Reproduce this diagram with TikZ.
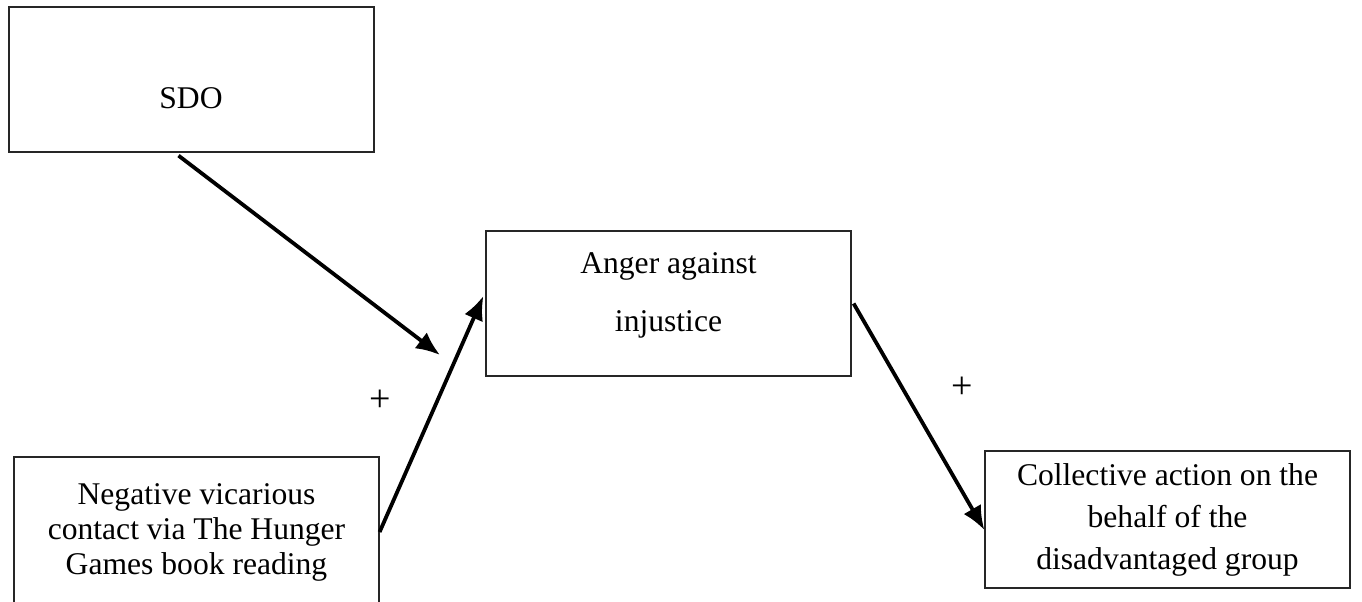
\documentclass[tikz,border=0pt]{standalone}
\usepackage{fontspec}
\setmainfont{Liberation Serif}
\usetikzlibrary{arrows.meta}
\tikzset{
  box/.style={draw=black!85, line width=0.6pt, minimum width=182.5pt, inner sep=0pt},
  txt/.style={align=center, font=\fontsize{15.8}{17.5}\selectfont},
  link/.style={-{Latex[length=12pt,width=10pt]}, line width=1.9pt},
}
\begin{document}
\begin{tikzpicture}[x=0.5pt, y=-0.5pt]
        \useasboundingbox (0,0) rectangle (1362,601);
        \clip (0,0) rectangle (1362,601);

        % boxes
        \node[box, minimum height=72.5pt] (sdo) at (191.5,79.5) {};
        \node[txt, anchor=base] (sdotext) at (191,108) {SDO};

        \node[box, minimum height=72.5pt] (anger) at (668.5,303.5) {};
        \node[txt, font=\fontsize{15.8}{29}\selectfont] (angertext) at (668.5,295) {Anger against\\injustice};

        \node[box, txt, minimum height=75pt] (neg) at (196.5,532) {Negative vicarious\\contact via The Hunger\\Games book reading};

        \node[box, txt, font=\fontsize{15.8}{21}\selectfont, minimum height=68.5pt] (coll) at (1167.5,519.5) {Collective action on the\\behalf of the\\disadvantaged group};

        % arrows
        \coordinate (sdoend) at (440,355);
        \draw[link] ([xshift=-6.5pt,yshift=-1.5pt]sdo.south) -- (sdoend);
        \draw[link] (neg.east) -- ([xshift=-1pt,yshift=3.75pt]anger.west);
        \draw[link] ([xshift=1pt]anger.east) -- ([yshift=-5.25pt]coll.west);

        \node[txt, font=\fontsize{19}{20}\selectfont] (plusa) at (380,401) {+};
        \node[txt, font=\fontsize{19}{20}\selectfont] (plusb) at (962,388) {+};
\end{tikzpicture}
\end{document}
